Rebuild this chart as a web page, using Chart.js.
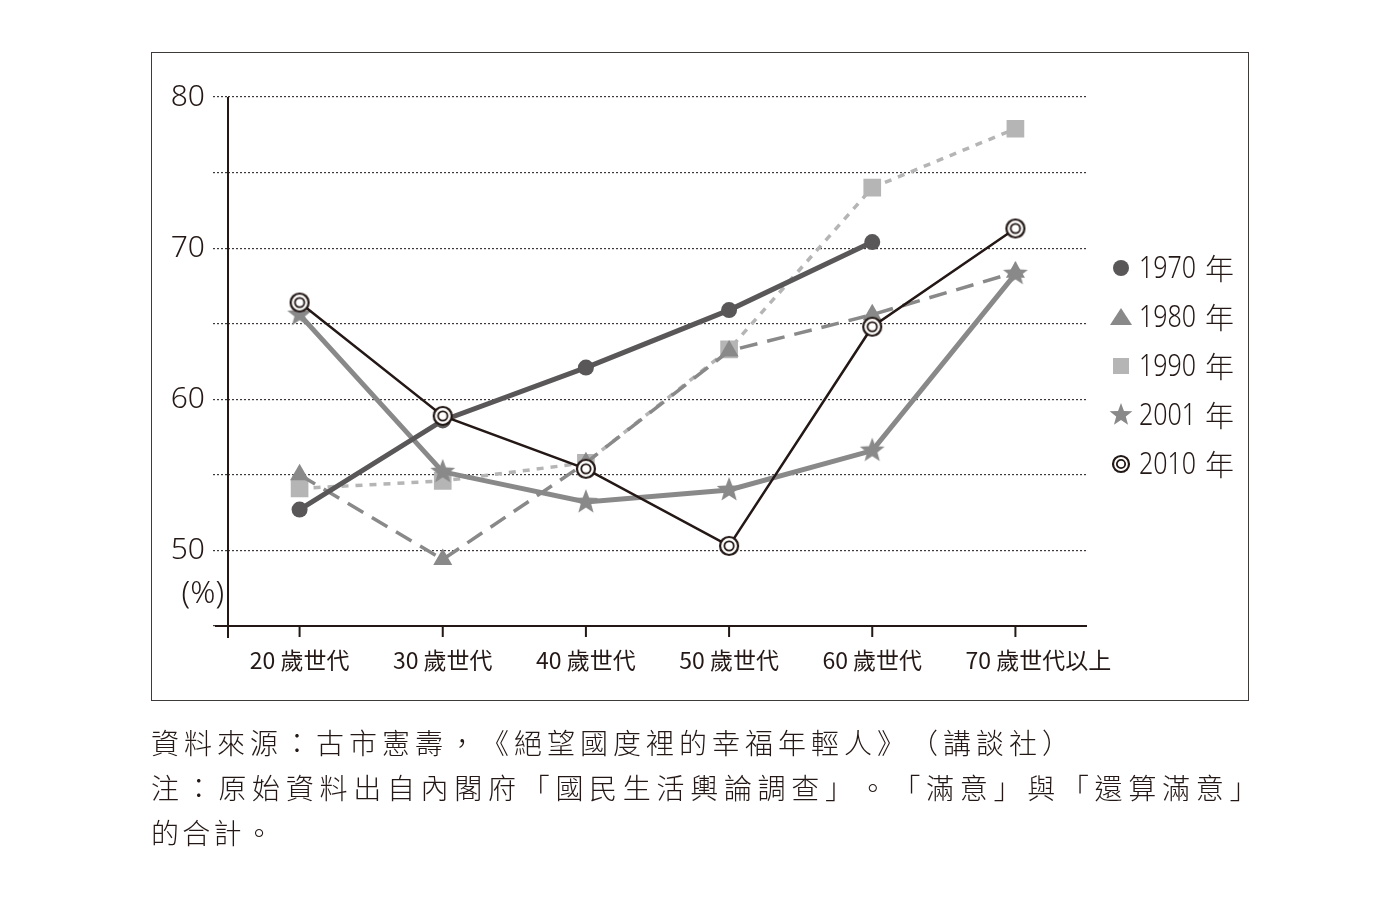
<!DOCTYPE html>
<html>
<head>
<meta charset="utf-8">
<script src="https://cdn.jsdelivr.net/npm/chart.js@4.4.1/dist/chart.umd.min.js"></script>
<style>
  body { margin: 0; background: #fff; }
  #wrap { position: relative; width: 1400px; height: 900px; }
  #frame { position: absolute; left: 151px; top: 52px; width: 1096px; height: 647px; border: 1px solid #3e3a39; }
  #grafico { position: absolute; left: 0; top: 0; }
  .nota { position: absolute; left: 151px; font-family: "Noto Sans CJK TC", sans-serif; font-weight: 300;
          font-size: 28px; letter-spacing: 3.3px; color: #231815; white-space: nowrap;
          text-spacing-trim: space-all; font-kerning: none; }
</style>
</head>
<body>
<div id="wrap">
  <div id="frame"></div>
  <canvas id="grafico" width="1400" height="900"></canvas>
  <div class="nota" style="top:722px; letter-spacing:5px">資料來源：古市憲壽，《絕望國度裡的幸福年輕人》（講談社）</div>
  <div class="nota" style="top:767px; letter-spacing:5.7px">注：原始資料出自內閣府「國民生活輿論調查」。「滿意」與「還算滿意」</div>
  <div class="nota" style="top:812px">的合計。</div>
</div>
<script>
// Datos (porcentaje satisfecho por generación)
const categorias = ["20 歲世代", "30 歲世代", "40 歲世代", "50 歲世代", "60 歲世代", "70 歲世代以上"];
const anios = ["1970", "1980", "1990", "2001", "2010"];
const datos1970 = [52.7, 58.6, 62.1, 65.9, 70.4, null];
const datos1980 = [55.0, 49.4, 55.8, 63.2, 65.6, 68.4];
const datos1990 = [54.1, 54.6, 55.8, 63.3, 74.0, 77.9];
const datos2001 = [65.6, 55.2, 53.2, 54.0, 56.6, 68.3];
const datos2010 = [66.4, 58.9, 55.4, 50.3, 64.8, 71.3];
const ticksY = [50, 60, 70, 80];

const tinta = "#231815";

// estrella rellena (el "star" de Chart.js es un asterisco)
function crearEstrella(color, r) {
  const c = document.createElement("canvas");
  c.width = c.height = r * 2 + 2;
  const g = c.getContext("2d");
  g.fillStyle = color;
  g.beginPath();
  for (let i = 0; i < 10; i++) {
    const rad = i % 2 === 0 ? r : r * 0.42;
    const a = -Math.PI / 2 + i * Math.PI / 5;
    const px = r + 1 + rad * Math.cos(a), py = r + 1 + rad * Math.sin(a);
    i === 0 ? g.moveTo(px, py) : g.lineTo(px, py);
  }
  g.closePath();
  g.fill();
  return c;
}

// doble círculo para 2010
function crearDobleCirculo(r) {
  const c = document.createElement("canvas");
  c.width = c.height = r * 2 + 4;
  const g = c.getContext("2d");
  const m = r + 2;
  g.fillStyle = "#fff";
  g.beginPath(); g.arc(m, m, r, 0, Math.PI * 2); g.fill();
  g.strokeStyle = tinta;
  g.lineWidth = 2.2;
  g.beginPath(); g.arc(m, m, r, 0, Math.PI * 2); g.stroke();
  g.lineWidth = 1.8;
  g.beginPath(); g.arc(m, m, r * 0.52, 0, Math.PI * 2); g.stroke();
  return c;
}

const estrella = crearEstrella("#898989", 13);
const dobleCirculo = crearDobleCirculo(9);
const estrellaLeyenda = crearEstrella("#898989", 12);
const dobleLeyenda = crearDobleCirculo(8);

// ejes, marcas y leyenda dibujados a mano
const ejesPlugin = {
  id: "ejes",
  afterDraw(chart) {
    const ctx = chart.ctx;
    const a = chart.chartArea;
    const x = chart.scales.x;
    const y = chart.scales.y;
    ctx.save();
    ctx.strokeStyle = tinta;
    ctx.lineWidth = 2;
    ctx.beginPath();
    ctx.moveTo(a.left, y.getPixelForValue(80));
    ctx.lineTo(a.left, a.bottom + 12);
    ctx.moveTo(a.left - 13, a.bottom);
    ctx.lineTo(a.right, a.bottom);
    categorias.forEach((c, i) => {
      const px = x.getPixelForValue(i);
      ctx.moveTo(px, a.bottom);
      ctx.lineTo(px, a.bottom + 11);
    });
    ctx.stroke();

    ctx.fillStyle = tinta;
    ctx.font = '300 31px "Noto Sans", sans-serif';
    ctx.textAlign = "right";
    ctx.textBaseline = "middle";
    ctx.fillText("(%)", a.left - 4, y.getPixelForValue(50) + 44);

    // leyenda
    const dibujos = [
      (cx, cy) => { ctx.fillStyle = "#595757"; ctx.beginPath(); ctx.arc(cx, cy, 8, 0, Math.PI * 2); ctx.fill(); },
      (cx, cy) => { ctx.fillStyle = "#898989"; ctx.beginPath(); ctx.moveTo(cx, cy - 9); ctx.lineTo(cx + 11, cy + 8); ctx.lineTo(cx - 11, cy + 8); ctx.closePath(); ctx.fill(); },
      (cx, cy) => { ctx.fillStyle = "#b5b5b5"; ctx.fillRect(cx - 8, cy - 8, 16, 16); },
      (cx, cy) => { ctx.drawImage(estrellaLeyenda, cx - estrellaLeyenda.width / 2, cy - estrellaLeyenda.height / 2); },
      (cx, cy) => { ctx.drawImage(dobleLeyenda, cx - dobleLeyenda.width / 2, cy - dobleLeyenda.height / 2); },
    ];
    ctx.textAlign = "left";
    anios.forEach((t, i) => {
      const cy = 268 + i * 49;
      dibujos[i](a.right + 34, cy);
      ctx.fillStyle = tinta;
      // cifras estrechas como en el original
      ctx.save();
      ctx.translate(a.right + 52, cy + 1);
      ctx.scale(0.78, 1);
      ctx.font = '300 32px "Noto Sans", sans-serif';
      ctx.fillText(t, 0, 0);
      ctx.restore();
      ctx.font = '300 29px "Noto Sans CJK TC", sans-serif';
      ctx.fillText("年", a.right + 118, cy + 1);
    });
    ctx.restore();
  },
};

function serie(label, data, color, ancho, dash, estilo, radio) {
  return {
    label: label,
    data: data,
    borderColor: color,
    backgroundColor: color,
    borderWidth: ancho,
    borderDash: dash,
    pointStyle: estilo,
    pointRadius: radio,
    pointBorderWidth: 0,
    pointBackgroundColor: color,
    fill: false,
    tension: 0,
    spanGaps: false,
  };
}

const ctx = document.getElementById("grafico").getContext("2d");
const grafico = new Chart(ctx, {
  type: "line",
  data: {
    labels: categorias,
    datasets: [
      serie(anios[4], datos2010, tinta, 2.5, [], dobleCirculo, 10),
      serie(anios[0], datos1970, "#595757", 5, [], "circle", 8),
      serie(anios[3], datos2001, "#898989", 5, [], estrella, 13),
      serie(anios[1], datos1980, "#898989", 3.5, [18, 10], "triangle", 11),
      serie(anios[2], datos1990, "#b5b5b5", 3.5, [7, 7], "rect", 12.5),
    ],
  },
  options: {
    responsive: false,
    animation: false,
    layout: { padding: { left: 0, right: 313, top: 97, bottom: 0 } },
    plugins: { legend: { display: false }, tooltip: { enabled: false } },
    scales: {
      x: {
        offset: true,
        grid: { display: false },
        border: { display: false },
        ticks: {
          color: tinta,
          padding: 12,
          autoSkip: false,
          font: { family: '"Noto Sans CJK TC", sans-serif', size: 23, weight: 400 },
          maxRotation: 0,
          // la última etiqueta se alinea como "70 歲世代" + "以上"
          callback: (v, i) => (i === categorias.length - 1 ? "\u3000\u3000" + categorias[i] : categorias[i]),
        },
        afterFit(scale) { scale.height = 900 - 626; },
      },
      y: {
        min: 45,
        max: 80,
        grid: {
          color: "#3e3a39",
          lineWidth: 1.2,
          tickLength: 15,
          tickColor: "#3e3a39",
          tickBorderDash: [2, 2],
        },
        border: { display: false, dash: [2, 2] },
        ticks: {
          stepSize: 5,
          padding: 8,
          color: tinta,
          font: { family: '"Noto Sans", sans-serif', size: 30, weight: 300 },
          callback: (v) => (ticksY.includes(v) ? v : ""),
        },
        afterFit(scale) { scale.width = 228; },
      },
    },
  },
  plugins: [ejesPlugin],
});
</script>
</body>
</html>
